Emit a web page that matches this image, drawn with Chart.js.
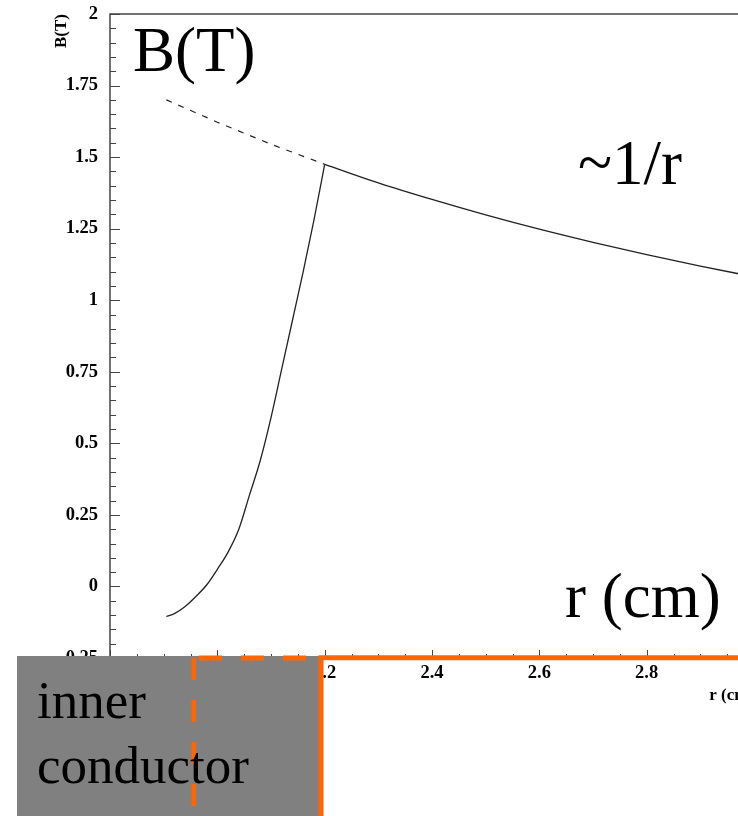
<!DOCTYPE html>
<html>
<head>
<meta charset="utf-8">
<script src="https://cdn.jsdelivr.net/npm/chart.js@4.4.0/dist/chart.umd.min.js"></script>
<style>
  body { margin: 0; overflow: hidden; background: #fff; }
  #wrap { position: absolute; left: 0; top: 0; width: 760px; height: 816px; }
  .note { position: absolute; font-family: "Liberation Serif", serif; color: #000; white-space: nowrap; line-height: 1; }
</style>
</head>
<body>
<div id="wrap"><canvas id="chart"></canvas></div>

<svg style="position:absolute;left:0;top:0" width="738" height="816">
  <rect x="17" y="656" width="305" height="160" fill="#808080"/>
  <path d="M199 658 H322" stroke="#ff6600" stroke-width="5" stroke-dasharray="23 19" fill="none"/>
  <path d="M193.8 658 V816" stroke="#ff6600" stroke-width="4.5" stroke-dasharray="22 20" fill="none"/>
  <path d="M738 657.8 H321 V816" stroke="#ff6600" stroke-width="5" fill="none"/>
</svg>

<div class="note" style="left:133px;top:19px;font-size:63px">B(T)</div>
<div class="note" style="left:578px;top:132px;font-size:63px">~1/r</div>
<div class="note" style="left:565px;top:565px;font-size:63px">r (cm)</div>
<div class="note" style="left:37px;top:668px;font-size:53px;line-height:64.7px">inner<br>conductor</div>

<script>
// values
const innerR = [1.905, 1.92, 1.94, 1.96, 1.98, 2.00, 2.02, 2.04, 2.06, 2.08, 2.10, 2.12, 2.14, 2.16, 2.18, 2.20];
const innerB = [-0.105, -0.095, -0.07, -0.035, 0.005, 0.06, 0.12, 0.20, 0.32, 0.44, 0.59, 0.76, 0.93, 1.10, 1.28, 1.475];

const outerR = [2.2, 2.3, 2.4, 2.5, 2.6, 2.7, 2.8, 2.9, 3.0];
const outerB = [1.475, 1.41, 1.352, 1.298, 1.248, 1.202, 1.159, 1.119, 1.082];

// 1/r continued inside the conductor (dashed)
const extR = [1.905, 2.0, 2.1, 2.2];
const extB = [1.70, 1.622, 1.545, 1.475];

const xTickValues = [1.8, 2.0, 2.2, 2.4, 2.6, 2.8, 3.0];
const yTickValues = [-0.25, 0, 0.25, 0.5, 0.75, 1, 1.25, 1.5, 1.75, 2];

function pts(xs, ys) {
  return xs.map((v, i) => ({ x: v, y: ys[i] }));
}

function fmt(v) {
  return String(Math.round(v * 100) / 100);
}

const tickFont = { family: "Liberation Serif", size: 18.5, weight: "bold" };

// ROOT style frame with ticks pointing inward
const frameTicks = {
  id: "frameTicks",
  afterDatasetsDraw(chart) {
    const { ctx, chartArea: a, scales } = chart;
    const x = scales.x, y = scales.y;
    ctx.save();
    ctx.strokeStyle = "#444";
    ctx.lineWidth = 1.5;
    ctx.strokeRect(a.left, a.top, a.right - a.left, a.bottom - a.top);

    ctx.lineWidth = 1;
    ctx.beginPath();
    for (let i = 0; i <= 45; i++) {
      const py = Math.round(y.getPixelForValue(-0.25 + i * 0.05)) + 0.5;
      const len = i % 5 === 0 ? 10 : 6;
      ctx.moveTo(a.left, py);
      ctx.lineTo(a.left + len, py);
    }
    for (let i = 0; i <= 24; i++) {
      const px = Math.round(x.getPixelForValue(1.8 + i * 0.05)) + 0.5;
      const len = i % 4 === 0 ? 8 : 4;
      ctx.moveTo(px, a.bottom);
      ctx.lineTo(px, a.bottom - len);
    }
    ctx.stroke();
    ctx.restore();
  }
};

new Chart(document.getElementById("chart"), {
  type: "scatter",
  data: {
    datasets: [
      {
        data: pts(innerR, innerB),
        showLine: true,
        borderColor: "#222",
        borderWidth: 1.3,
        cubicInterpolationMode: "monotone",
        pointRadius: 0
      },
      {
        data: pts(outerR, outerB),
        showLine: true,
        borderColor: "#222",
        borderWidth: 1.3,
        cubicInterpolationMode: "monotone",
        pointRadius: 0
      },
      {
        data: pts(extR, extB),
        showLine: true,
        borderColor: "#222",
        borderWidth: 1.2,
        borderDash: [6, 7],
        pointRadius: 0
      }
    ]
  },
  options: {
    responsive: true,
    maintainAspectRatio: false,
    animation: false,
    layout: { padding: { top: 14, right: 6, left: 0, bottom: 0 } },
    plugins: {
      legend: { display: false },
      tooltip: { enabled: false }
    },
    scales: {
      x: {
        type: "linear",
        min: 1.8,
        max: 3.0,
        afterBuildTicks: s => { s.ticks = xTickValues.map(v => ({ value: v })); },
        afterFit: s => { s.height = 158; s.paddingLeft = 0; s.paddingRight = 0; },
        grid: { display: false, drawTicks: false },
        border: { display: false },
        ticks: { font: tickFont, color: "#000", padding: 4, maxRotation: 0, autoSkip: false, callback: fmt },
        title: {
          display: true,
          text: "r (cm)",
          align: "end",
          color: "#000",
          font: { family: "Liberation Serif", size: 17, weight: "bold" },
          padding: { top: 0, bottom: 110 }
        }
      },
      y: {
        min: -0.25,
        max: 2,
        afterBuildTicks: s => { s.ticks = yTickValues.map(v => ({ value: v })); },
        afterFit: s => { s.width = 110; s.paddingTop = 0; s.paddingBottom = 0; },
        grid: { display: false, drawTicks: false },
        border: { display: false },
        ticks: { font: tickFont, color: "#000", padding: 12, autoSkip: false, callback: fmt },
        title: {
          display: true,
          text: "B(T)",
          align: "end",
          color: "#000",
          font: { family: "Liberation Serif", size: 17, weight: "bold" },
          padding: { top: 51, bottom: 0 }
        }
      }
    }
  },
  plugins: [frameTicks]
});
</script>
</body>
</html>
